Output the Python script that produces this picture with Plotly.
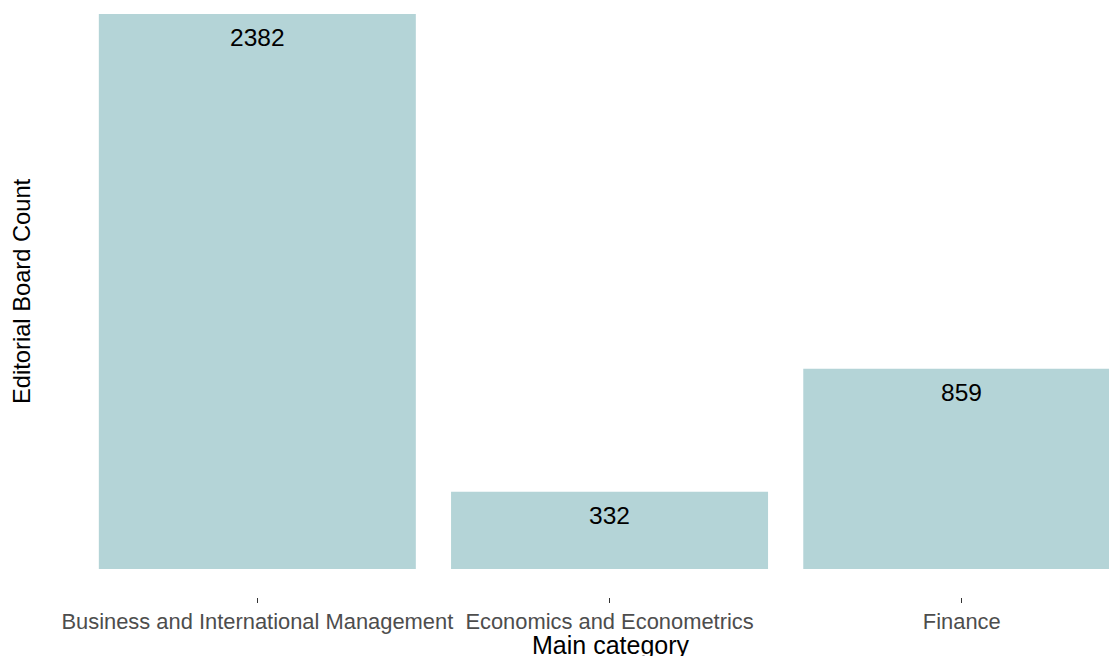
import plotly.graph_objects as go

# Editorial board members per main journal category
categories = ["Business and International Management", "Economics and Econometrics", "Finance"]
board_counts = [2382, 332, 859]

BAR_COLOR = "#B4D4D7"
FONT = "Liberation Sans, Arial, sans-serif"

fig = go.Figure(
    go.Bar(
        x=categories,
        y=board_counts,
        width=0.9,
        marker=dict(color=BAR_COLOR, line=dict(width=0)),
        hoverinfo="x+y",
    )
)

# Count labels just inside the top of each bar
for cat, n in zip(categories, board_counts):
    fig.add_annotation(
        x=cat, y=n, text=str(n), showarrow=False,
        yanchor="middle", yshift=-24,
        font=dict(family=FONT, size=24.5, color="#000000"),
    )

W, H = 1109, 656
# Axis titles, centred on the full (partly off-page) panel
fig.add_annotation(
    text="Main category", showarrow=False,
    xref="paper", yref="paper",
    x=(611 - 46) / (W - 46), y=-(645 - 597) / 597,
    xanchor="center", yanchor="middle",
    font=dict(family=FONT, size=25, color="#000000"),
)
fig.add_annotation(
    text="Editorial Board Count", showarrow=False, textangle=-90,
    xref="paper", yref="paper",
    x=-(46 - 22) / (W - 46), y=1 - 291 / 597,
    xanchor="center", yanchor="middle",
    font=dict(family=FONT, size=23.7, color="#000000"),
)

fig.update_layout(
    width=W, height=H,
    margin=dict(l=46, r=0, t=0, b=59),
    paper_bgcolor="white", plot_bgcolor="white",
    showlegend=False,
    xaxis=dict(
        range=[-0.6, 2.418],
        showgrid=False, zeroline=False, showline=False,
        ticks="outside", ticklen=5, tickwidth=1, tickcolor="#333333",
        tickfont=dict(family=FONT, size=21.9, color="#4D4D4D"),
        automargin=False,
    ),
    yaxis=dict(
        range=[-120.2, 2442],
        showgrid=False, zeroline=False, showline=False,
        showticklabels=False, ticks="",
        automargin=False,
    ),
)

fig.write_html("out.html")
